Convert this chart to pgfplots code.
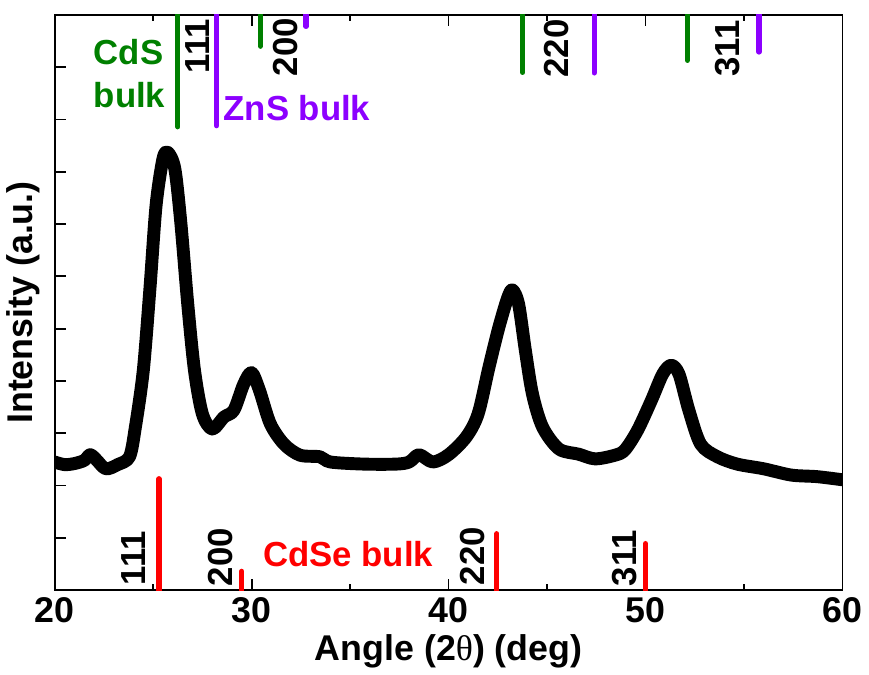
\documentclass[border=0pt]{standalone}
\usepackage{pgfplots}
\pgfplotsset{compat=1.18}
\usepackage{fontspec}
\setmainfont{Liberation Sans}
\newfontfamily\symf{Liberation Serif}

\definecolor{cdsgreen}{RGB}{0,128,0}
\definecolor{znspurple}{RGB}{140,0,255}
\definecolor{cdsered}{RGB}{255,0,0}

\pgfplotstableread{
x y
20.0 2.45
20.5 2.40
21.0 2.42
21.5 2.48
21.8 2.59
22.1 2.50
22.6 2.32
23.2 2.40
23.8 2.55
24.1 3.12
24.5 4.20
24.84 5.78
25.15 7.36
25.5 8.25
25.75 8.37
26.1 8.06
26.4 7.05
26.76 5.46
27.1 4.20
27.5 3.37
28.0 3.08
28.6 3.31
29.1 3.44
29.6 3.94
30.0 4.16
30.4 3.82
30.95 3.18
31.65 2.79
32.46 2.58
33.47 2.55
34.0 2.45
35.7 2.41
37.35 2.41
38.0 2.45
38.5 2.59
39.2 2.45
40.0 2.59
40.9 2.93
41.5 3.37
42.05 4.26
42.55 5.02
43.0 5.59
43.25 5.74
43.56 5.46
43.9 4.58
44.26 3.75
44.77 3.12
45.6 2.70
46.6 2.60
47.44 2.51
48.45 2.58
48.95 2.68
49.6 3.06
50.3 3.63
50.87 4.13
51.3 4.30
51.7 4.13
52.2 3.44
52.8 2.79
53.65 2.55
54.65 2.41
56.0 2.32
57.4 2.20
58.7 2.17
60.0 2.11
}\xrd

\begin{document}
\begin{tikzpicture}
\begin{axis}[
    scale only axis,
    width=396.5pt, height=289.5pt,
    xmin=20, xmax=60, ymin=0, ymax=11,
    axis line style={line width=0.9pt},
    tick style={line width=0.9pt, black},
    tick align=inside,
    xtick={20,30,40,50,60},
    minor xtick={25,35,45,55},
    xtick pos=both,
    ytick={1,2,...,10},
    yticklabels={},
    ytick pos=left,
    major tick length=5.5pt,
    minor tick length=3pt,
    /pgf/number format/assume math mode=true,
    tick label style={font=\fontsize{18}{20}\selectfont\bfseries},
    xlabel={Angle (2{\symf\mdseries θ}) (deg)},
    ylabel={Intensity (a.u.)},
    label style={font=\fontsize{18}{20}\selectfont\bfseries},
    xlabel style={yshift=1pt},
    ylabel style={yshift=-3pt},
    clip=true,
]
\addplot[black, line width=6.5pt, line join=round, line cap=round, smooth, tension=0.5] table {\xrd};

% CdS bulk sticks (from top)
\addplot[cdsgreen, line width=2.6pt, line cap=round] coordinates {(26.25,11.2) (26.25,8.86)};
\addplot[cdsgreen, line width=2.6pt, line cap=round] coordinates {(30.44,11.2) (30.44,10.4)};
\addplot[cdsgreen, line width=2.6pt, line cap=round] coordinates {(43.76,11.2) (43.76,9.9)};
\addplot[cdsgreen, line width=2.6pt, line cap=round] coordinates {(52.13,11.2) (52.13,10.13)};
% ZnS bulk sticks
\addplot[znspurple, line width=2.6pt, line cap=round] coordinates {(28.22,11.2) (28.22,8.88)};
\addplot[znspurple, line width=2.6pt, line cap=round] coordinates {(32.76,11.2) (32.76,10.78)};
\addplot[znspurple, line width=2.6pt, line cap=round] coordinates {(47.39,11.2) (47.39,9.89)};
\addplot[znspurple, line width=2.6pt, line cap=round] coordinates {(55.76,11.2) (55.76,10.29)};
% CdSe bulk sticks (from bottom)
\addplot[cdsered, line width=2.6pt, line cap=round] coordinates {(25.3,-0.2) (25.3,2.13)};
\addplot[cdsered, line width=2.6pt, line cap=round] coordinates {(29.5,-0.2) (29.5,0.36)};
\addplot[cdsered, line width=2.6pt, line cap=round] coordinates {(42.45,-0.2) (42.45,1.08)};
\addplot[cdsered, line width=2.6pt, line cap=round] coordinates {(50.0,-0.2) (50.0,0.89)};

\begin{scope}[every node/.style={font=\fontsize{17.5}{19}\selectfont\bfseries, inner sep=0pt}]
\node[rotate=90] at (axis cs:27.26,10.4) {111};
\node[rotate=90] at (axis cs:31.7,10.38) {200};
\node[rotate=90] at (axis cs:45.47,10.36) {220};
\node[rotate=90] at (axis cs:54.15,10.36) {311};
\node[rotate=90] at (axis cs:23.98,0.61) {111};
\node[rotate=90] at (axis cs:28.4,0.63) {200};
\node[rotate=90] at (axis cs:41.24,0.65) {220};
\node[rotate=90] at (axis cs:48.95,0.61) {311};
\node[text=cdsgreen, align=left] at (axis cs:23.8,9.88) {CdS\\[3pt]bulk};
\node[text=znspurple] at (axis cs:32.3,9.22) {ZnS bulk};
\node[text=cdsered] at (axis cs:34.9,0.68) {CdSe bulk};
\end{scope}
\end{axis}
\path ([yshift=7.5pt]current axis.north) circle (0pt);
\end{tikzpicture}
\end{document}
